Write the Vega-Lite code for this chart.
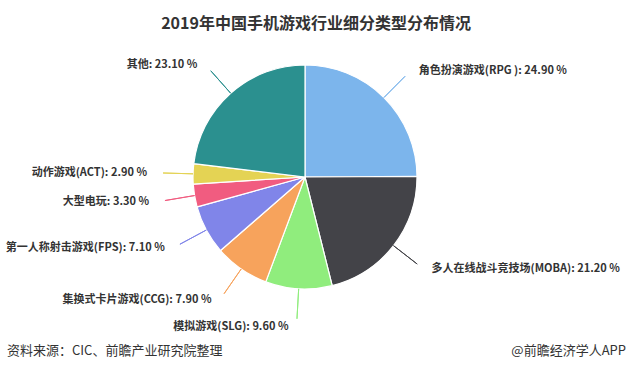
{
  "$schema": "https://vega.github.io/schema/vega-lite/v6.json",
  "autosize": "none",
  "width": 610,
  "height": 274,
  "padding": {"top": 40, "left": 0, "right": 22, "bottom": 58},
  "background": "white",
  "config": {"view": {"stroke": null}, "font": "Noto Sans CJK SC"},
  "title": {
    "text": "2019年中国手机游戏行业细分类型分布情况",
    "font": "Noto Sans CJK SC",
    "fontSize": 16,
    "fontWeight": "bold",
    "color": "#333333",
    "anchor": "middle",
    "dx": 11,
    "offset": 8
  },
  "data": {
    "values": [
      {"idx": 1, "cat": "角色扮演游戏(RPG )", "value": 24.9, "text": "角色扮演游戏(RPG ): 24.90 %"},
      {"idx": 2, "cat": "多人在线战斗竞技场(MOBA)", "value": 21.2, "text": "多人在线战斗竞技场(MOBA): 21.20 %"},
      {"idx": 3, "cat": "模拟游戏(SLG)", "value": 9.6, "text": "模拟游戏(SLG): 9.60 %"},
      {"idx": 4, "cat": "集换式卡片游戏(CCG)", "value": 7.9, "text": "集换式卡片游戏(CCG): 7.90 %"},
      {"idx": 5, "cat": "第一人称射击游戏(FPS)", "value": 7.1, "text": "第一人称射击游戏(FPS): 7.10 %"},
      {"idx": 6, "cat": "大型电玩", "value": 3.3, "text": "大型电玩: 3.30 %"},
      {"idx": 7, "cat": "动作游戏(ACT)", "value": 2.9, "text": "动作游戏(ACT): 2.90 %"},
      {"idx": 8, "cat": "其他", "value": 23.1, "text": "其他: 23.10 %"}
    ]
  },
  "transform": [
    {"stack": "value", "groupby": [], "sort": [{"field": "idx", "order": "ascending"}], "as": ["s", "e"]}
  ],
  "layer": [
    {
      "mark": {"type": "arc", "outerRadius": 112, "stroke": "white", "strokeWidth": 1.2},
      "encoding": {
        "theta": {"field": "s", "type": "quantitative", "scale": {"domain": [0, 100]}, "stack": null},
        "theta2": {"field": "e"},
        "color": {
          "field": "cat", "type": "nominal", "legend": null,
          "scale": {
            "domain": ["角色扮演游戏(RPG )", "多人在线战斗竞技场(MOBA)", "模拟游戏(SLG)", "集换式卡片游戏(CCG)", "第一人称射击游戏(FPS)", "大型电玩", "动作游戏(ACT)", "其他"],
            "range": ["#7cb5ec", "#434348", "#90ed7d", "#f7a35c", "#8085e9", "#f15c80", "#e4d354", "#2b908f"]
          }
        }
      }
    },
    {
      "transform": [
        {"fold": ["s", "e"], "as": ["k", "v"]},
        {"aggregate": [{"op": "mean", "field": "v", "as": "mid"}], "groupby": ["cat", "text"]}
      ],
      "mark": {"type": "arc", "filled": false, "innerRadius": 112, "outerRadius": 142, "strokeWidth": 1},
      "encoding": {
        "theta": {"field": "mid", "type": "quantitative", "scale": {"domain": [0, 100]}, "stack": null},
        "theta2": {"field": "mid"},
        "color": {"field": "cat", "type": "nominal", "legend": null}
      }
    },
    {
      "transform": [
        {"fold": ["s", "e"], "as": ["k", "v"]},
        {"aggregate": [{"op": "mean", "field": "v", "as": "mid"}], "groupby": ["cat", "text"]},
        {"filter": "datum.mid < 50"}
      ],
      "mark": {"type": "text", "radius": 150, "align": "left", "baseline": "middle", "dx": 8, "fontSize": 11, "fontWeight": "bold", "font": "Noto Sans CJK SC", "color": "#333333"},
      "encoding": {
        "theta": {"field": "mid", "type": "quantitative", "scale": {"domain": [0, 100]}, "stack": null},
        "text": {"field": "text"}
      }
    },
    {
      "transform": [
        {"fold": ["s", "e"], "as": ["k", "v"]},
        {"aggregate": [{"op": "mean", "field": "v", "as": "mid"}], "groupby": ["cat", "text"]},
        {"filter": "datum.mid >= 50"}
      ],
      "mark": {"type": "text", "radius": 150, "align": "right", "baseline": "middle", "dx": -8, "fontSize": 11, "fontWeight": "bold", "font": "Noto Sans CJK SC", "color": "#333333"},
      "encoding": {
        "theta": {"field": "mid", "type": "quantitative", "scale": {"domain": [0, 100]}, "stack": null},
        "text": {"field": "text"}
      }
    },
    {
      "data": {"values": [{"t": "资料来源：CIC、前瞻产业研究院整理"}]},
      "mark": {"type": "text", "x": 7, "y": 311, "align": "left", "baseline": "middle", "fontSize": 13, "font": "Noto Sans CJK SC", "color": "#333333"},
      "encoding": {"text": {"field": "t"}}
    },
    {
      "data": {"values": [{"t": "@前瞻经济学人APP"}]},
      "mark": {"type": "text", "x": 626, "y": 311, "align": "right", "baseline": "middle", "fontSize": 13, "font": "Noto Sans CJK SC", "color": "#333333"},
      "encoding": {"text": {"field": "t"}}
    }
  ]
}
